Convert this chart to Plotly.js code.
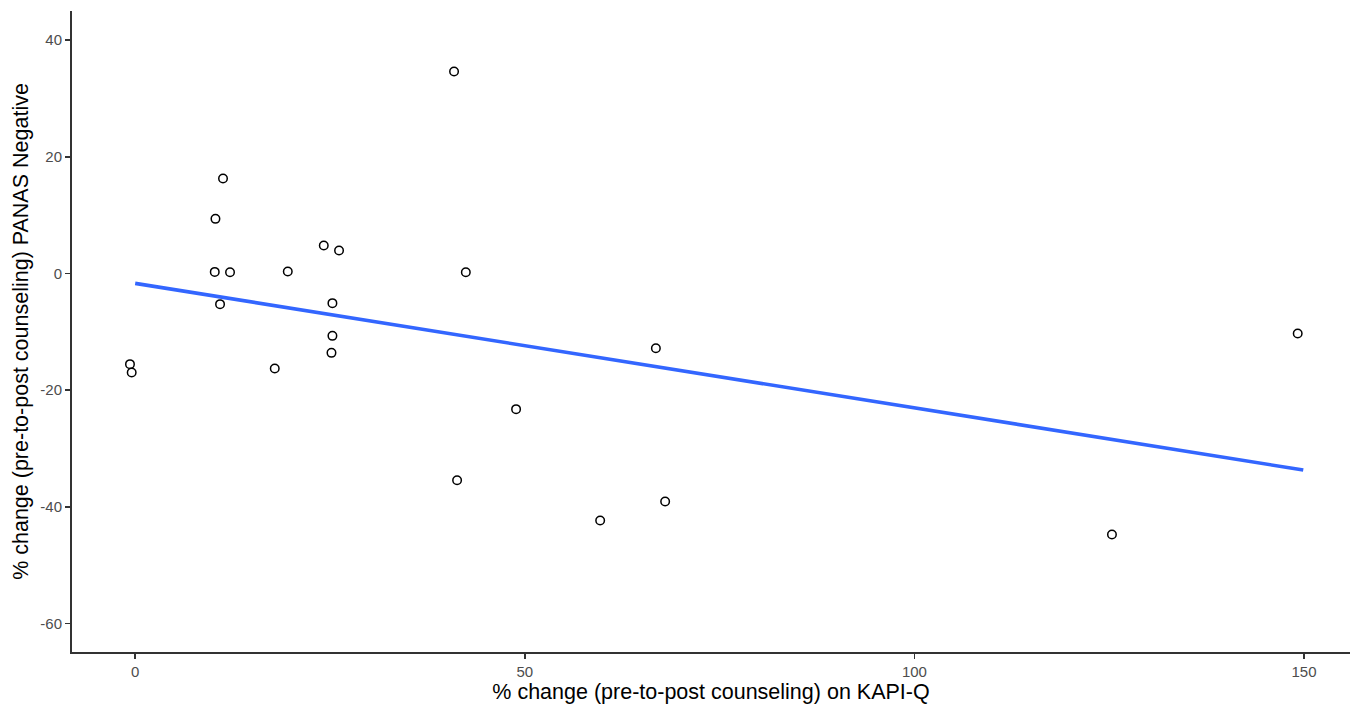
<!DOCTYPE html>
<html>
<head>
<meta charset="utf-8">
<script src="https://cdn.plot.ly/plotly-3.0.1.min.js"></script>
<style>html,body{margin:0;padding:0;background:#fff;}#chart{width:1354px;height:704px;}</style>
</head>
<body>
<div id="chart"></div>
<script>
var kapiChange = [-0.67, -0.45, 11.27, 10.30, 10.21, 12.17, 10.89, 19.58, 17.91, 24.20, 26.16, 25.31, 25.31, 25.19, 40.92, 42.43, 41.31, 48.88, 59.67, 66.82, 68.01, 125.35, 149.19];
var panasNegChange = [-15.55, -16.97, 16.29, 9.36, 0.27, 0.22, -5.26, 0.34, -16.29, 4.80, 3.94, -5.09, -10.70, -13.61, 34.63, 0.22, -35.44, -23.26, -42.35, -12.81, -39.09, -44.75, -10.29];
var fitX = [0, 149.9];
var fitY = [-1.7, -33.7];
var xTicks = [0, 50, 100, 150];
var yTicks = [-60, -40, -20, 0, 20, 40];

var traces = [
  {
    x: kapiChange, y: panasNegChange, type: 'scatter', mode: 'markers',
    marker: {symbol: 'circle', size: 8.5, color: 'white', line: {color: 'black', width: 1.5}},
    showlegend: false, hoverinfo: 'x+y'
  },
  {
    x: fitX, y: fitY, type: 'scatter', mode: 'lines',
    line: {color: '#3366FF', width: 3.6},
    showlegend: false, hoverinfo: 'skip'
  }
];

var axisCommon = {
  showgrid: false, zeroline: false, showline: true, linecolor: '#333333', linewidth: 2,
  ticks: 'outside', ticklen: 5, tickwidth: 1.5, tickcolor: '#333333',
  tickfont: {family: 'Liberation Sans, Arial, sans-serif', size: 15, color: '#4d4d4d'}
};

var layout = {
  width: 1354, height: 704,
  paper_bgcolor: 'white', plot_bgcolor: 'white',
  margin: {l: 72, r: 4, t: 11, b: 52},
  xaxis: Object.assign({}, axisCommon, {
    range: [-8.11, 155.9], tickvals: xTicks, ticktext: xTicks.map(String),
    title: {text: '% change (pre-to-post counseling) on KAPI-Q', standoff: 3,
      font: {family: 'Liberation Sans, Arial, sans-serif', size: 21.5, color: '#000'}}
  }),
  yaxis: Object.assign({}, axisCommon, {
    range: [-64.9, 45.0], tickvals: yTicks, ticktext: yTicks.map(String),
    title: {text: '% change (pre-to-post counseling) PANAS Negative', standoff: 6,
      font: {family: 'Liberation Sans, Arial, sans-serif', size: 21.5, color: '#000'}}
  })
};

Plotly.newPlot('chart', traces, layout, {displayModeBar: false, staticPlot: true});
</script>
</body>
</html>
